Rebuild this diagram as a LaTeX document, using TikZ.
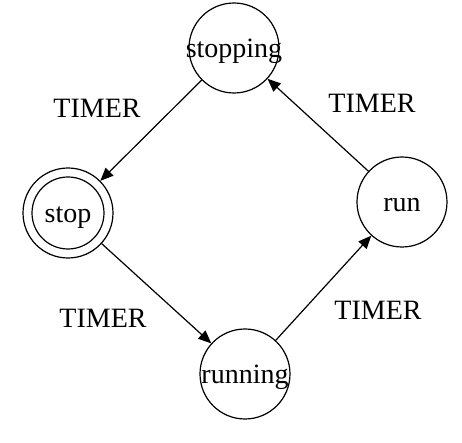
\documentclass[tikz,border=0pt]{standalone}
\usepackage{fontspec}
\setmainfont{Liberation Serif}
\usetikzlibrary{arrows.meta}

\tikzset{
    state/.style={draw, circle, line width=0.6pt, minimum size=45pt, inner sep=0pt,
        text height=10pt, text depth=0pt,
        execute at begin node=\hbox to 0pt\bgroup\hss,
        execute at end node=\hss\egroup},
    trans/.style={line width=0.6pt, -{Triangle[length=6.5pt, width=5.5pt]}},
}

\begin{document}
\begin{tikzpicture}[x=0.5pt, y=-0.5pt, font=\fontsize{14}{16}\selectfont]
\useasboundingbox (0,0) rectangle (462,443);

    \node[state] (stopping) at (234,48) {stopping};
    \node[state] (stop)     at (68,213) {stop};
    \node[state] (run)      at (402,202) {run};
    \node[state] (running)  at (245,374) {running};

    % inner ring of the final state
    \draw[line width=0.6pt] (stop.center) circle[radius=18pt];

    \draw[trans] (stopping) -- (stop);
    \draw[trans] (stop) -- (running);
    \draw[trans] (running) -- (run);
    \draw[trans] (run) -- (stopping);

    \node (lbl-stopping-stop) at (97,108) {TIMER};
    \node (lbl-run-stopping)  at (372,103) {TIMER};
    \node (lbl-stop-running)  at (103,318) {TIMER};
    \node (lbl-running-run)   at (378,310) {TIMER};

\end{tikzpicture}
\end{document}
